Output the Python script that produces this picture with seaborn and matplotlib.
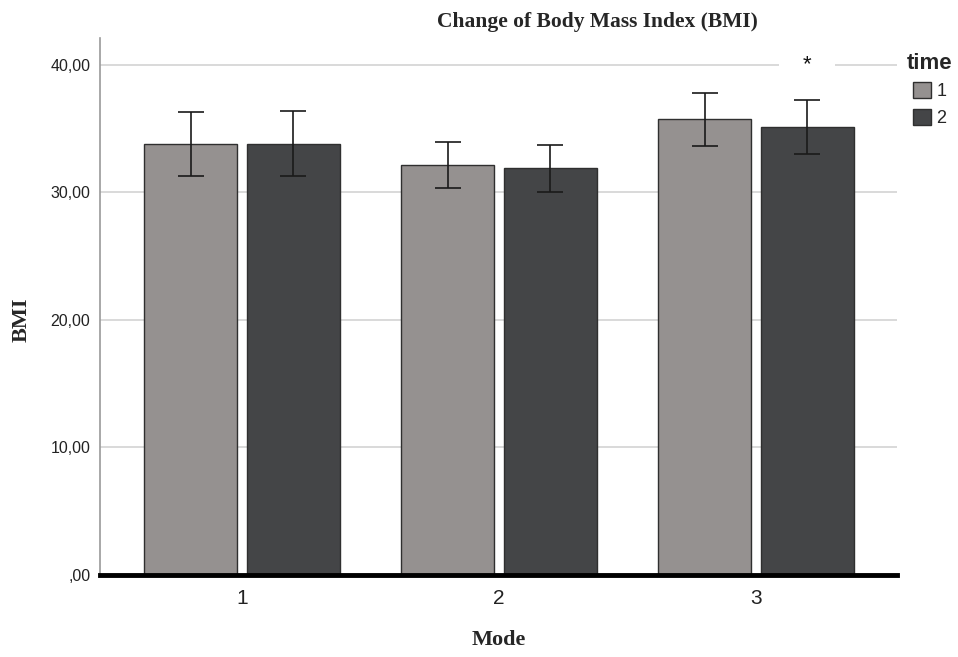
import matplotlib
matplotlib.use("Agg")
import matplotlib.pyplot as plt
from matplotlib.ticker import FuncFormatter
import seaborn as sns
import pandas as pd

# Mean BMI per mode and time point, with lower/upper error-bar limits
modes = ["1", "2", "3"]
times = ["1", "2"]
bmi_time1 = [33.8, 32.15, 35.75]
bmi_time2 = [33.8, 31.9, 35.15]
low_time1 = [31.3, 30.35, 33.65]
high_time1 = [36.3, 33.95, 37.8]
low_time2 = [31.3, 30.0, 33.0]
high_time2 = [36.4, 33.7, 37.25]

df = pd.DataFrame({
    "Mode": modes * 2,
    "time": [times[0]] * 3 + [times[1]] * 3,
    "BMI": bmi_time1 + bmi_time2,
    "low": low_time1 + low_time2,
    "high": high_time1 + high_time2,
})

sns.set_style("white")
plt.rcParams["font.family"] = ["Liberation Sans", "DejaVu Sans"]

fig = plt.figure(figsize=(9.58, 6.57), dpi=100)
ax = fig.add_axes([100 / 958, 82 / 657, 797 / 958, 537 / 657])

palette = {"1": "#959190", "2": "#444547"}
sns.barplot(data=df, x="Mode", y="BMI", hue="time", hue_order=times,
            order=modes, palette=palette, errorbar=None, width=0.8, gap=0.1,
            edgecolor="#2f2f2f", linewidth=1.0, saturation=1, ax=ax, zorder=2)

# error bars placed at the centre of each drawn bar
for patch, (_, row) in zip(ax.patches, df.iterrows()):
    cx = patch.get_x() + patch.get_width() / 2
    ax.errorbar(cx, row["BMI"],
                yerr=[[row["BMI"] - row["low"]], [row["high"] - row["BMI"]]],
                fmt="none", ecolor="#1a1a1a", elinewidth=1.2, capsize=9.5,
                capthick=1.2, zorder=3)

ax.set_xlim(-0.553, 2.549)
ax.set_ylim(0, 42.1)
ax.set_yticks([0, 10, 20, 30, 40])


def spss_fmt(v, pos):
    s = f"{v:.2f}".replace(".", ",")
    return s[1:] if s.startswith("0") else s


ax.yaxis.set_major_formatter(FuncFormatter(spss_fmt))
ax.yaxis.grid(True, color="#d3d3d3", linewidth=1.2, zorder=0)
ax.set_axisbelow(True)
ax.tick_params(axis="y", length=0, labelsize=11.5, labelcolor="#222222", pad=7)
ax.tick_params(axis="x", length=0, labelsize=15, labelcolor="#222222", pad=10)

for side in ("top", "right"):
    ax.spines[side].set_visible(False)
ax.spines["left"].set_color("#9a9a9a")
ax.spines["left"].set_linewidth(1.2)
ax.spines["bottom"].set_color("black")
ax.spines["bottom"].set_linewidth(3.5)
ax.spines["bottom"].set_zorder(4)

ax.set_xlabel("")
ax.set_ylabel("")
serif = ["Liberation Serif", "DejaVu Serif"]
fig.text(597 / 958, 1 - 22 / 657, "Change of Body Mass Index (BMI)",
         family=serif, weight="bold", fontsize=15.5, ha="center", va="center")
fig.text(22 / 958, 1 - 320 / 657, "BMI", family=serif, weight="bold",
         fontsize=16, rotation=90, ha="center", va="center")
fig.text(499 / 958, 1 - 640 / 657, "Mode", family=serif, weight="bold",
         fontsize=16, ha="center", va="center")

# significance marker over mode 3
ax.text(2.2, 40, "*", fontsize=16, ha="center", va="center", color="#111111",
        bbox=dict(facecolor="white", edgecolor="none", pad=17), zorder=1)

leg = ax.legend(title="time", loc="upper left",
                bbox_to_anchor=(907 / 958, 1 - 53 / 657),
                bbox_transform=fig.transFigure, frameon=False,
                handlelength=1.0, handleheight=1.0, handletextpad=0.3,
                labelspacing=0.45, fontsize=13, borderaxespad=0,
                borderpad=0)
leg.get_title().set_fontweight("bold")
leg.get_title().set_fontsize(16)

fig.savefig("out.png", dpi=100, facecolor="white")
